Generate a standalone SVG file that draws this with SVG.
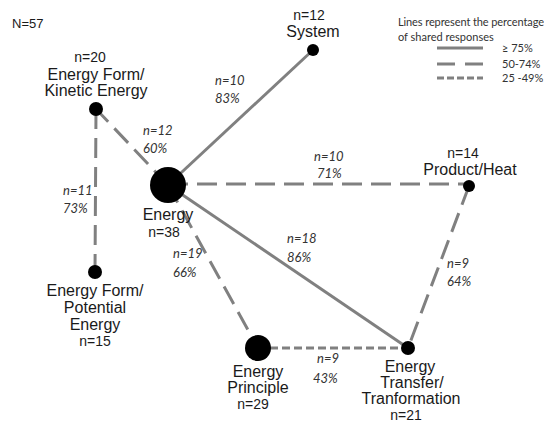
<svg xmlns="http://www.w3.org/2000/svg" width="544" height="423" viewBox="0 0 544 423">
<style>
.e{stroke:#808080;stroke-width:3;fill:none}
.d1{stroke-dasharray:20 9}
.d2{stroke-dasharray:8 4}
.nd{fill:#000}
.lb{font-family:"Liberation Sans",Arial,sans-serif;font-size:16px;fill:#1a1a1a;text-anchor:middle}
.nn{font-family:"Liberation Sans",Arial,sans-serif;font-size:14px;fill:#1a1a1a;text-anchor:middle}
.el{font-family:Lato,"Open Sans","Liberation Sans",sans-serif;font-style:italic;font-size:13px;fill:#333}
.lg{font-family:Lato,"Open Sans","Liberation Sans",sans-serif;font-size:11px;fill:#333}
</style>
<rect width="544" height="423" fill="#fff"/>
<text x="12" y="28" class="nn" style="text-anchor:start;font-size:13px">N=57</text>
<g id="legend">
<text x="398" y="26" class="lg" textLength="146">Lines represent the percentage</text>
<text x="398" y="41" class="lg">of shared responses</text>
<line x1="437" y1="48" x2="483" y2="48" class="e"/>
<line x1="437" y1="64" x2="483" y2="64" class="e" style="stroke-dasharray:18 10"/>
<line x1="437" y1="78" x2="483" y2="78" class="e" style="stroke-dasharray:7 3"/>
<text x="502" y="52" class="lg">≥ 75%</text>
<text x="502" y="68" class="lg">50-74%</text>
<text x="502" y="82" class="lg">25 -49%</text>
</g>
<g id="connectors">
<line x1="168" y1="185" x2="313" y2="50" class="e"/>
<line x1="168" y1="185" x2="96" y2="109" class="e d1"/>
<line x1="96" y1="109" x2="95" y2="272" class="e d1"/>
<line x1="168" y1="184" x2="469" y2="184" class="e d1"/>
<line x1="168" y1="185" x2="408" y2="348" class="e"/>
<line x1="168" y1="185" x2="258" y2="348" class="e d1"/>
<line x1="258" y1="348" x2="408" y2="348" class="e d2"/>
<line x1="469" y1="186" x2="408" y2="348" class="e d1"/>
<text x="215" y="85" class="el">n=10</text><text x="215" y="103" class="el">83%</text>
<text x="143" y="135" class="el">n=12</text><text x="143" y="153" class="el">60%</text>
<text x="63" y="195" class="el">n=11</text><text x="63" y="213" class="el">73%</text>
<text x="314" y="161" class="el">n=10</text><text x="317" y="178" class="el">71%</text>
<text x="287" y="243" class="el">n=18</text><text x="287" y="262" class="el">86%</text>
<text x="173" y="258" class="el">n=19</text><text x="173" y="277" class="el">66%</text>
<text x="447" y="268" class="el">n=9</text><text x="447" y="286" class="el">64%</text>
<text x="317" y="363" class="el">n=9</text><text x="313" y="383" class="el">43%</text>
</g>
<g id="energy">
<circle cx="168" cy="185" r="18" class="nd"/>
<text x="168" y="220" class="lb">Energy</text>
<text x="164" y="237" class="nn">n=38</text>
</g>
<g id="system">
<circle cx="313" cy="50" r="6" class="nd"/>
<text x="309" y="20" class="nn">n=12</text>
<text x="313" y="37" class="lb">System</text>
</g>
<g id="kinetic">
<circle cx="96" cy="109" r="7" class="nd"/>
<text x="90" y="62" class="nn">n=20</text>
<text x="96" y="80" class="lb">Energy Form/</text>
<text x="96" y="96" class="lb">Kinetic Energy</text>
</g>
<g id="potential">
<circle cx="95" cy="272" r="7" class="nd"/>
<text x="95" y="296" class="lb">Energy Form/</text>
<text x="95" y="313" class="lb">Potential</text>
<text x="95" y="330" class="lb">Energy</text>
<text x="95" y="346" class="nn">n=15</text>
</g>
<g id="product">
<circle cx="469" cy="186" r="6" class="nd"/>
<text x="463" y="158" class="nn">n=14</text>
<text x="470" y="175" class="lb">Product/Heat</text>
</g>
<g id="principle">
<circle cx="258" cy="348" r="13" class="nd"/>
<text x="258" y="377" class="lb">Energy</text>
<text x="258" y="393" class="lb">Principle</text>
<text x="253" y="409" class="nn">n=29</text>
</g>
<g id="transfer">
<circle cx="408" cy="348" r="7" class="nd"/>
<text x="410" y="372" class="lb">Energy</text>
<text x="412" y="388" class="lb">Transfer/</text>
<text x="411" y="404" class="lb">Tranformation</text>
<text x="406" y="420" class="nn">n=21</text>
</g>
</svg>
